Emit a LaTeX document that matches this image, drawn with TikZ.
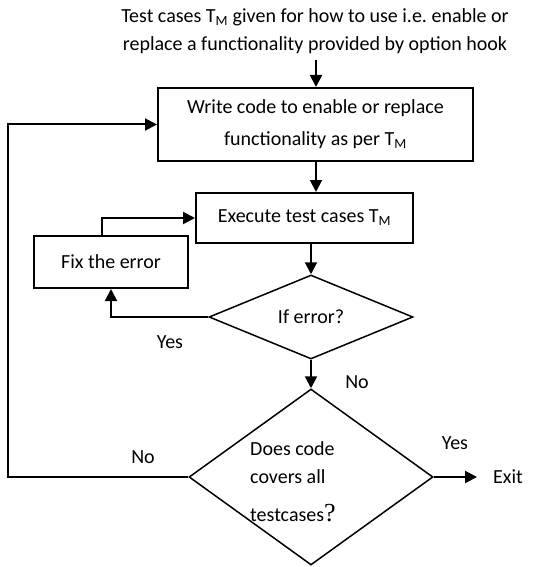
\documentclass[tikz,border=0pt]{standalone}
\usepackage{fontspec}
\setmainfont{Carlito}
\newfontfamily\qfont{Liberation Serif}
\usetikzlibrary{arrows.meta,shapes.geometric}
\frenchspacing
\begin{document}
\begin{tikzpicture}[x=1pt,y=-1pt,
  font=\fontsize{20}{28}\selectfont,
  box/.style={draw, line width=2pt, inner sep=0pt, align=center},
  dec/.style={draw, diamond, line width=1.5pt, inner sep=0pt},
  flow/.style={line width=2pt, -{Triangle[length=12pt,width=12pt]}},
  lbl/.style={inner sep=0pt}]
\useasboundingbox (0,0) rectangle (547,567);

% process boxes and decisions
\node[lbl, align=center] (intro) at (315,31)
  {Test cases T\textsubscript{M} given for how to use i.e. enable or\\
   replace a functionality provided by option hook};
\node[box, minimum width=315pt, minimum height=73pt] (write) at (315.5,124.5)
  {Write code to enable or replace\\[4pt] functionality as per T\textsubscript{M}};
\node[box, minimum width=217pt, minimum height=50pt] (exec) at (304.5,218)
  {Execute test cases T\textsubscript{M}};
\node[box, minimum width=154pt, minimum height=52pt] (fix) at (111,262)
  {Fix the error};
\node[dec, minimum width=204pt, minimum height=84pt] (d1) at (311,317) {};
\node[lbl] (d1text) at (311,317) {If error?};
\node[dec, minimum width=244pt, minimum height=176pt] (d2) at (311,477) {};
\node[lbl, align=left, anchor=west] (d2text) at (250,482)
  {Does code\\covers all\\[10pt]testcases{\qfont\fontsize{26}{26}\selectfont ?}};
\node[lbl, anchor=west] (exit) at (493,477) {Exit};

% edge labels
\node[lbl] (yes1) at (170,342) {Yes};
\node[lbl] (no1) at (357,382) {No};
\node[lbl] (yes2) at (455,443) {Yes};
\node[lbl] (no2) at (143,457) {No};

% connector end points
\coordinate (in) at (316,60);
\coordinate (loop) at (8,477);
\coordinate (exitin) at (477,477);

% connectors
\draw[flow] (in) -- (in |- write.north);
\draw[flow] (write.south -| in) -- (in |- exec.north);
\draw[flow] (exec.south -| d1.north) -- (d1.north);
\draw[flow] (d1.west) -| (fix.south);
\draw[flow] ([xshift=-9pt]fix.north) |- (exec.west);
\draw[flow] (d1.south) -- (d2.north);
\draw[flow] (d2.east) -- (exitin);
\draw[flow] (d2.west) -- (loop) |- (write.west);
\end{tikzpicture}
\end{document}
